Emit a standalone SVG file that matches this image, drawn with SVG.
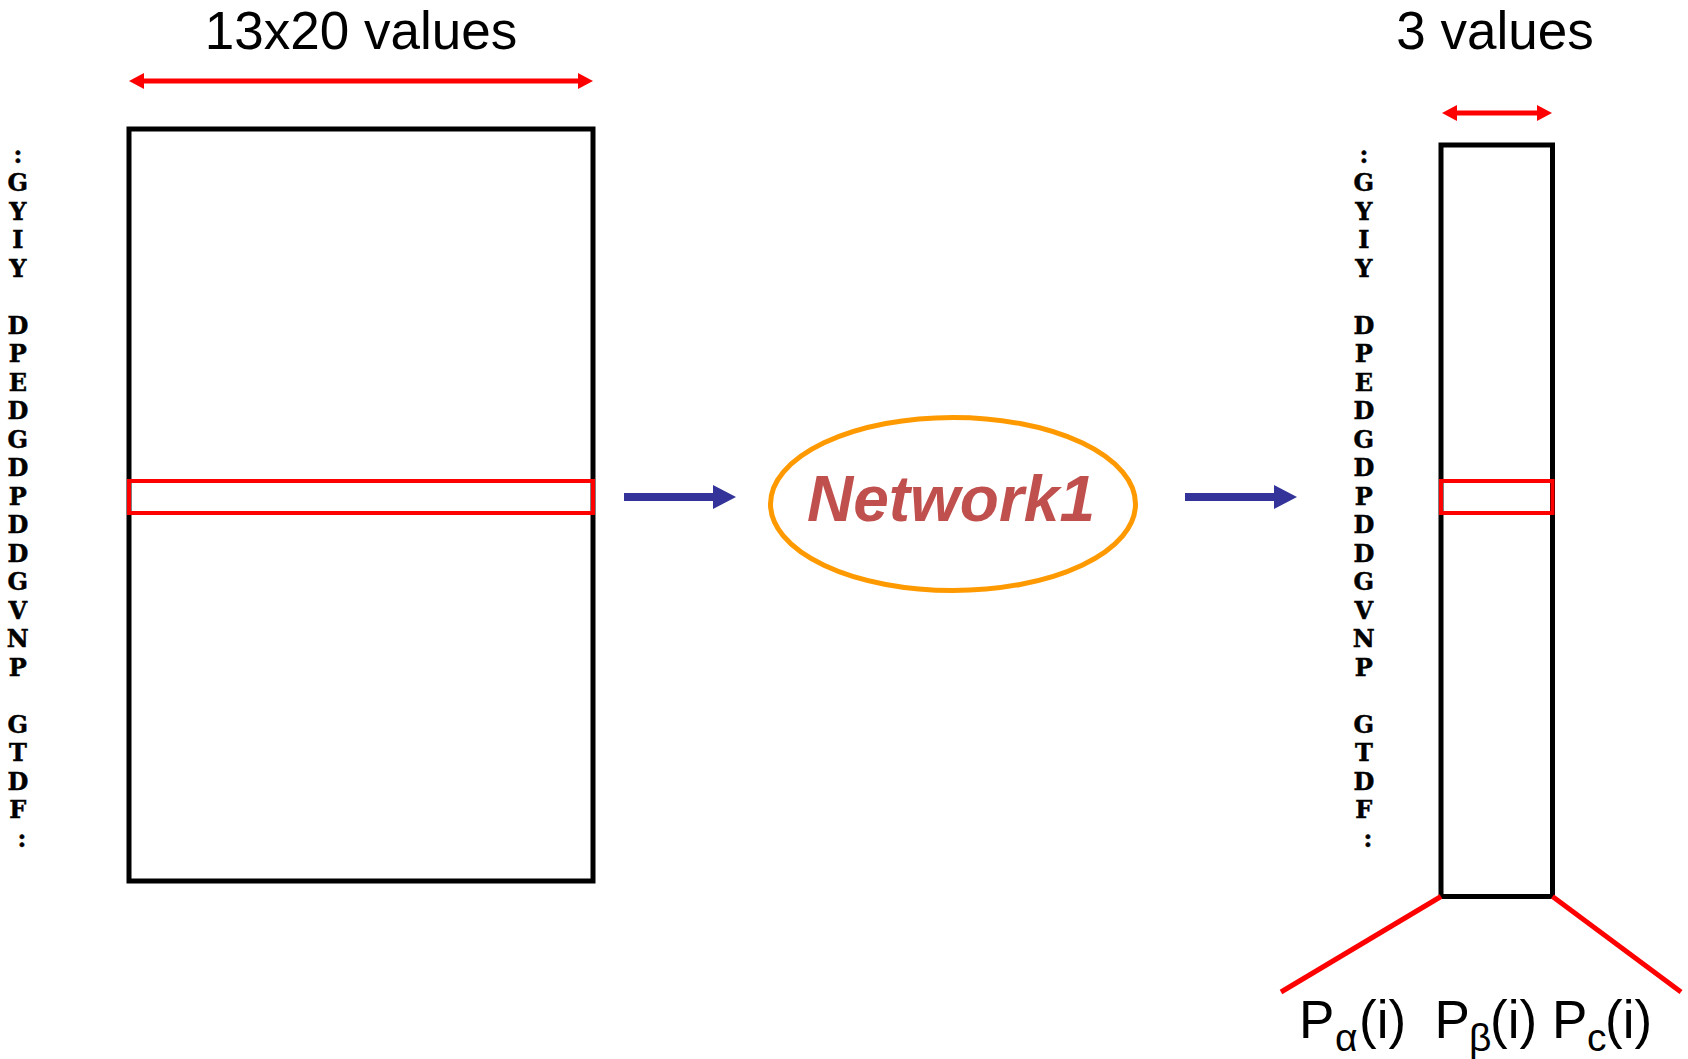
<svg xmlns="http://www.w3.org/2000/svg" width="1688" height="1059" viewBox="0 0 1688 1059">
<defs>
<style>
.box{fill:none;stroke:#000;stroke-width:5}
.row{fill:none;stroke:#FF0000;stroke-width:4}
.dim{stroke:#FF0000;stroke-width:5;fill:none}
.flow{stroke:#333399;stroke-width:8;fill:none}
.lbl{font-family:"Liberation Sans",Arial,sans-serif;font-size:53px;fill:#000}
.sub{font-size:39px}
.seq{font-family:"DejaVu Serif","Liberation Serif",serif;font-weight:bold;font-size:24px;fill:#000;stroke:#000;stroke-width:0.5;text-anchor:middle}
.net{font-family:"Liberation Sans",Arial,sans-serif;font-weight:bold;font-style:italic;font-size:64px;fill:#C0504D;text-anchor:middle}
</style>
<marker id="redHead" markerUnits="userSpaceOnUse" markerWidth="16" markerHeight="17" refX="0" refY="8" orient="auto-start-reverse" viewBox="0 0 16 16">
<path d="M0,0 L15,8 L0,16 z" fill="#FF0000"/>
</marker>
<marker id="blueHead" markerUnits="userSpaceOnUse" markerWidth="24" markerHeight="25" refX="0" refY="12" orient="auto" viewBox="0 0 24 24">
<path d="M0,0 L23,12 L0,24 z" fill="#333399"/>
</marker>
</defs>
<rect width="1688" height="1059" fill="#fff"/>

<g id="input-matrix">
<text class="lbl" x="361" y="49" text-anchor="middle">13x20 values</text>
<line class="dim" x1="144" y1="81" x2="578" y2="81" marker-start="url(#redHead)" marker-end="url(#redHead)"/>
<rect class="box" x="129" y="129" width="464" height="752"/>
<rect class="row" x="129" y="481" width="464" height="32"/>
<text class="seq">
<tspan x="22" y="163">:</tspan>
<tspan x="22" y="191">G</tspan>
<tspan x="22" y="220">Y</tspan>
<tspan x="22" y="248">I</tspan>
<tspan x="22" y="277">Y</tspan>
<tspan x="22" y="334">D</tspan>
<tspan x="22" y="362">P</tspan>
<tspan x="22" y="391">E</tspan>
<tspan x="22" y="419">D</tspan>
<tspan x="22" y="448">G</tspan>
<tspan x="22" y="476">D</tspan>
<tspan x="22" y="505">P</tspan>
<tspan x="22" y="533">D</tspan>
<tspan x="22" y="562">D</tspan>
<tspan x="22" y="590">G</tspan>
<tspan x="22" y="619">V</tspan>
<tspan x="22" y="647">N</tspan>
<tspan x="22" y="676">P</tspan>
<tspan x="22" y="733">G</tspan>
<tspan x="22" y="761">T</tspan>
<tspan x="22" y="790">D</tspan>
<tspan x="22" y="818">F</tspan>
<tspan x="22" y="847">:</tspan>
</text>
</g>

<g id="network1">
<ellipse cx="953" cy="504" rx="182.5" ry="86.5" fill="none" stroke="#FF9900" stroke-width="5"/>
<text class="net" x="951" y="521">Network1</text>
</g>

<g id="output-column">
<text class="lbl" x="1495" y="49" text-anchor="middle">3 values</text>
<line class="dim" x1="1457" y1="113" x2="1537" y2="113" marker-start="url(#redHead)" marker-end="url(#redHead)"/>
<rect class="box" x="1441" y="145" width="111.5" height="751.5"/>
<rect class="row" x="1441" y="481" width="111.5" height="32"/>
<text class="seq">
<tspan x="1368" y="163">:</tspan>
<tspan x="1368" y="191">G</tspan>
<tspan x="1368" y="220">Y</tspan>
<tspan x="1368" y="248">I</tspan>
<tspan x="1368" y="277">Y</tspan>
<tspan x="1368" y="334">D</tspan>
<tspan x="1368" y="362">P</tspan>
<tspan x="1368" y="391">E</tspan>
<tspan x="1368" y="419">D</tspan>
<tspan x="1368" y="448">G</tspan>
<tspan x="1368" y="476">D</tspan>
<tspan x="1368" y="505">P</tspan>
<tspan x="1368" y="533">D</tspan>
<tspan x="1368" y="562">D</tspan>
<tspan x="1368" y="590">G</tspan>
<tspan x="1368" y="619">V</tspan>
<tspan x="1368" y="647">N</tspan>
<tspan x="1368" y="676">P</tspan>
<tspan x="1368" y="733">G</tspan>
<tspan x="1368" y="761">T</tspan>
<tspan x="1368" y="790">D</tspan>
<tspan x="1368" y="818">F</tspan>
<tspan x="1368" y="847">:</tspan>
</text>
<line class="dim" x1="1441" y1="896.5" x2="1281" y2="992"/>
<line class="dim" x1="1552.5" y1="896.5" x2="1681" y2="992"/>
<text class="lbl"><tspan x="1299" y="1038">P</tspan><tspan class="sub" x="1335" y="1051">α</tspan><tspan x="1359" y="1038">(i)</tspan></text>
<text class="lbl"><tspan x="1434.5" y="1038">P</tspan><tspan class="sub" x="1469" y="1051">β</tspan><tspan x="1490" y="1038">(i)</tspan></text>
<text class="lbl"><tspan x="1552" y="1038">P</tspan><tspan class="sub" x="1587" y="1051">c</tspan><tspan x="1605" y="1038">(i)</tspan></text>
</g>

<g id="connectors">
<line class="flow" x1="624" y1="497" x2="713" y2="497" marker-end="url(#blueHead)"/>
<line class="flow" x1="1185" y1="497" x2="1274" y2="497" marker-end="url(#blueHead)"/>
</g>
</svg>
